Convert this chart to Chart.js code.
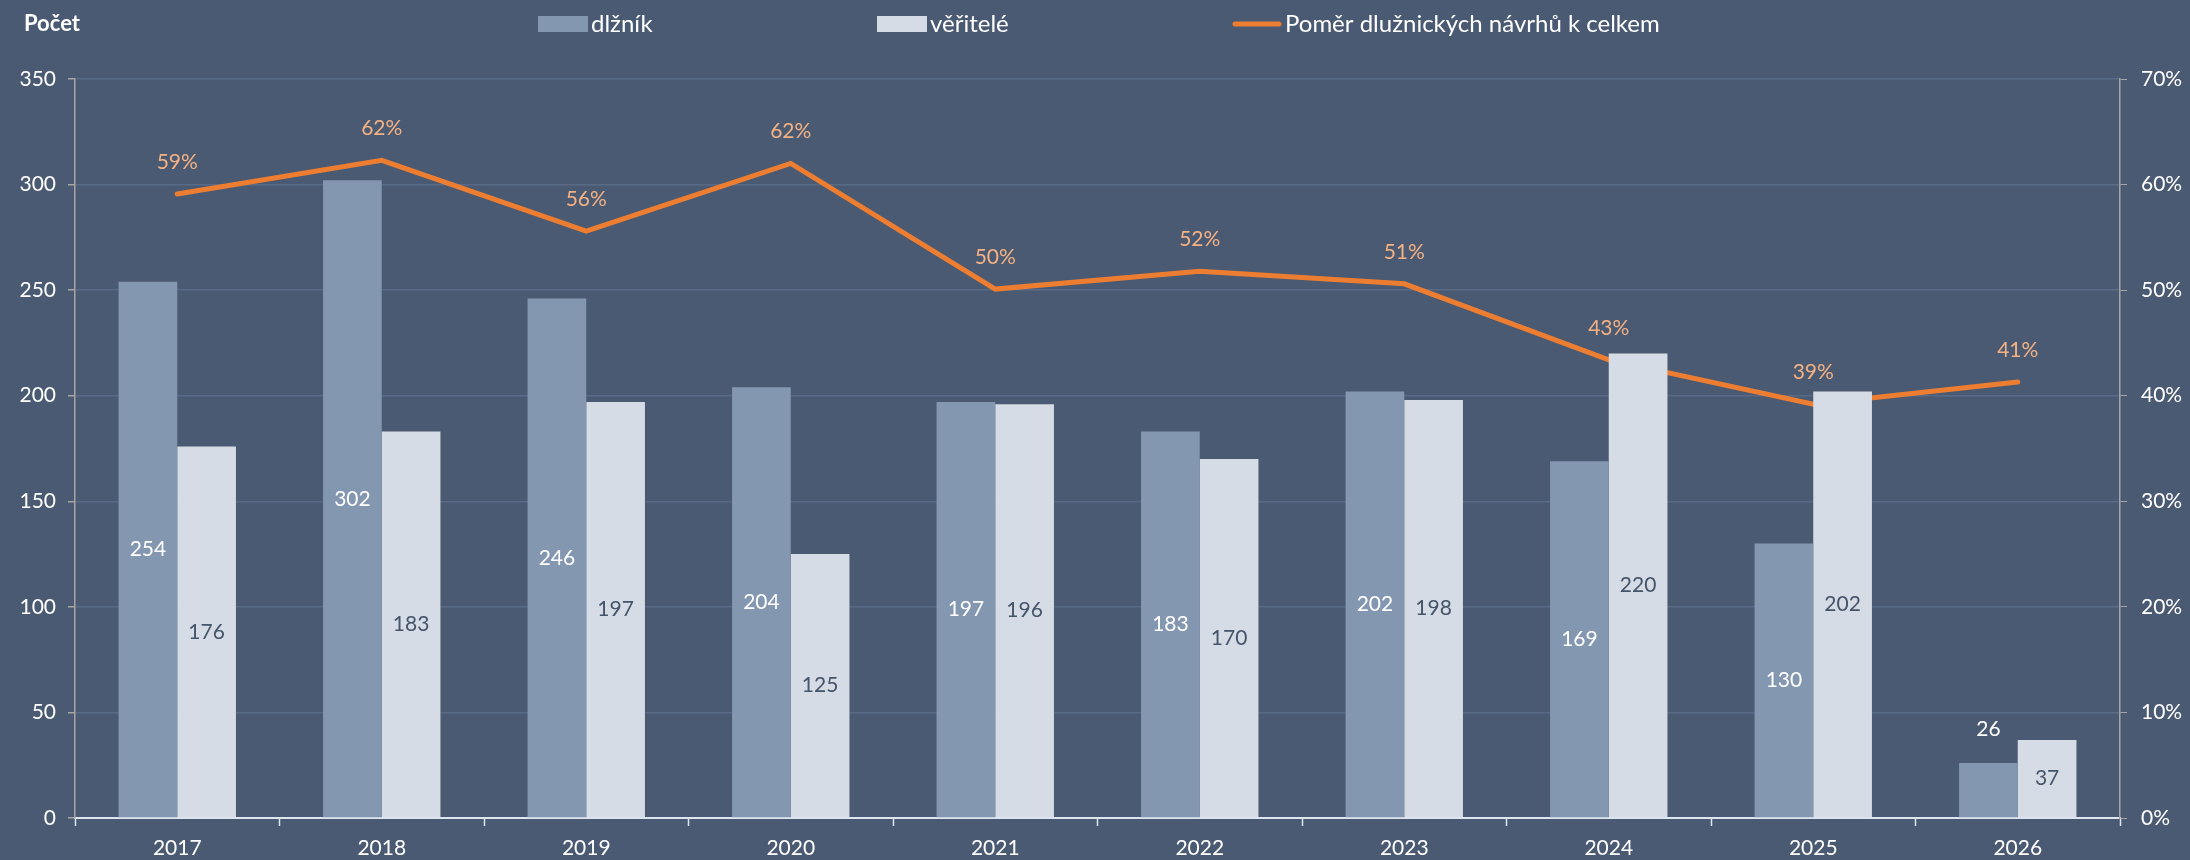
<!DOCTYPE html>
<html lang="cs">
<head>
    <meta charset="UTF-8">
    <title>Počet návrhů</title>
    <style>
        body {
            margin: 0;
            padding: 0;
            background-color: #4a5a72;
        }
        .chart-container {
            width: 2190px;
            height: 860px;
        }
    </style>
</head>
<body>

<div class="chart-container">
    <canvas id="mainChart" width="2190" height="860"></canvas>
</div>

<script src="https://cdn.jsdelivr.net/npm/chart.js"></script>

<script>
    // data
    const years = ['2017', '2018', '2019', '2020', '2021', '2022', '2023', '2024', '2025', '2026'];
    const dluznik = [254, 302, 246, 204, 197, 183, 202, 169, 130, 26];
    const veritele = [176, 183, 197, 125, 196, 170, 198, 220, 202, 37];
    const pomer = [0.591, 0.623, 0.556, 0.620, 0.501, 0.518, 0.506, 0.434, 0.392, 0.413];

    const bgColor = '#4a5a72';
    const gridColor = '#586a86';
    const axisGrey = '#a5a5a5';
    const dluznikColor = '#8497b0';
    const veriteleColor = '#d6dce5';
    const lineColor = '#ed7d31';
    const lineLabelColor = '#f4b183';
    const darkText = '#44546a';

    Chart.defaults.font.family = 'Lato, "Noto Sans", sans-serif';
    Chart.defaults.font.size = 21;
    Chart.defaults.color = '#ffffff';

    // value labels on bars and line
    const valueLabels = {
        id: 'valueLabels',
        afterDatasetsDraw(chart) {
            const ctx = chart.ctx;
            ctx.save();
            ctx.font = '21px Lato, "Noto Sans", sans-serif';
            ctx.textAlign = 'center';
            ctx.textBaseline = 'middle';
            chart.data.datasets.forEach((ds, i) => {
                const meta = chart.getDatasetMeta(i);
                meta.data.forEach((el, j) => {
                    const v = ds.data[j];
                    if (ds.type === 'line') {
                        ctx.fillStyle = lineLabelColor;
                        ctx.fillText(Math.round(v * 100) + '%', el.x, el.y - 32);
                        return;
                    }
                    const h = el.base - el.y;
                    ctx.fillStyle = i === 0 ? '#ffffff' : darkText;
                    // short first-series bar: label goes above it
                    if (i === 0 && h < 60) {
                        ctx.fillText(v, el.x, el.y - 34);
                    } else {
                        ctx.fillText(v, el.x, el.y + h / 2);
                    }
                });
            });
            ctx.restore();
        }
    };

    // Excel style legend and the "Počet" title
    const topLegend = {
        id: 'topLegend',
        afterDraw(chart) {
            const ctx = chart.ctx;
            const starts = [538, 877, 1232];
            const y = 24;
            ctx.save();
            ctx.font = 'bold 22px Lato, "Noto Sans", sans-serif';
            ctx.fillStyle = '#ffffff';
            ctx.textBaseline = 'middle';
            ctx.textAlign = 'left';
            ctx.fillText('Počet', 24, y);

            ctx.font = '24px Lato, "Noto Sans", sans-serif';
            chart.data.datasets.forEach((ds, i) => {
                const x = starts[i];
                if (ds.type === 'line') {
                    ctx.strokeStyle = ds.borderColor;
                    ctx.lineWidth = 5;
                    ctx.lineCap = 'round';
                    ctx.beginPath();
                    ctx.moveTo(x + 3, y);
                    ctx.lineTo(x + 47, y);
                    ctx.stroke();
                } else {
                    ctx.fillStyle = ds.backgroundColor;
                    ctx.fillRect(x, y - 8, 50, 16);
                }
                ctx.fillStyle = '#ffffff';
                ctx.fillText(ds.label, x + 53, y);
            });
            ctx.restore();
        }
    };

    const background = {
        id: 'background',
        beforeDraw(chart) {
            const ctx = chart.ctx;
            ctx.save();
            ctx.fillStyle = bgColor;
            ctx.fillRect(0, 0, chart.width, chart.height);
            ctx.restore();
        }
    };

    const ctx = document.getElementById('mainChart').getContext('2d');
    const mainChart = new Chart(ctx, {
        data: {
            labels: years,
            datasets: [
                {
                    type: 'bar',
                    label: 'dlžník',
                    data: dluznik,
                    backgroundColor: dluznikColor,
                    borderWidth: 0,
                    yAxisID: 'y',
                    categoryPercentage: 0.574,
                    barPercentage: 1.0
                },
                {
                    type: 'bar',
                    label: 'věřitelé',
                    data: veritele,
                    backgroundColor: veriteleColor,
                    borderWidth: 0,
                    yAxisID: 'y',
                    categoryPercentage: 0.574,
                    barPercentage: 1.0
                },
                {
                    type: 'line',
                    label: 'Poměr dlužnických návrhů k celkem',
                    data: pomer,
                    borderColor: lineColor,
                    backgroundColor: lineColor,
                    borderWidth: 5,
                    pointRadius: 0,
                    tension: 0,
                    borderCapStyle: 'round',
                    yAxisID: 'y1'
                }
            ]
        },
        options: {
            responsive: false,
            animation: false,
            layout: {
                padding: { top: 79, left: 0, right: 0, bottom: 0 }
            },
            plugins: {
                legend: { display: false },
                tooltip: { enabled: false }
            },
            scales: {
                x: {
                    offset: true,
                    grid: {
                        offset: true,
                        drawOnChartArea: false,
                        drawTicks: true,
                        tickLength: 8,
                        tickColor: '#dde6f0',
                        tickWidth: 1.5
                    },
                    border: { color: '#dde6f0', width: 2 },
                    ticks: { color: '#ffffff', padding: 10, font: { size: 21 } },
                    afterFit(scale) { scale.height = 42; }
                },
                y: {
                    position: 'left',
                    min: 0,
                    max: 350,
                    ticks: { stepSize: 50, color: '#ffffff', padding: 12, font: { size: 21 } },
                    grid: {
                        color: gridColor,
                        tickColor: axisGrey,
                        tickLength: 7,
                        lineWidth: 1.5
                    },
                    border: { color: axisGrey, width: 1.5 },
                    afterFit(scale) { scale.width = 75; }
                },
                y1: {
                    position: 'right',
                    min: 0,
                    max: 0.7,
                    ticks: {
                        stepSize: 0.1,
                        color: '#ffffff',
                        padding: 14,
                        font: { size: 21 },
                        callback: v => Math.round(v * 100) + '%'
                    },
                    grid: {
                        drawOnChartArea: false,
                        tickColor: axisGrey,
                        tickLength: 7
                    },
                    border: { color: axisGrey, width: 1.5 },
                    afterFit(scale) { scale.width = 70; }
                }
            }
        },
        plugins: [background, valueLabels, topLegend]
    });
</script>

</body>
</html>
